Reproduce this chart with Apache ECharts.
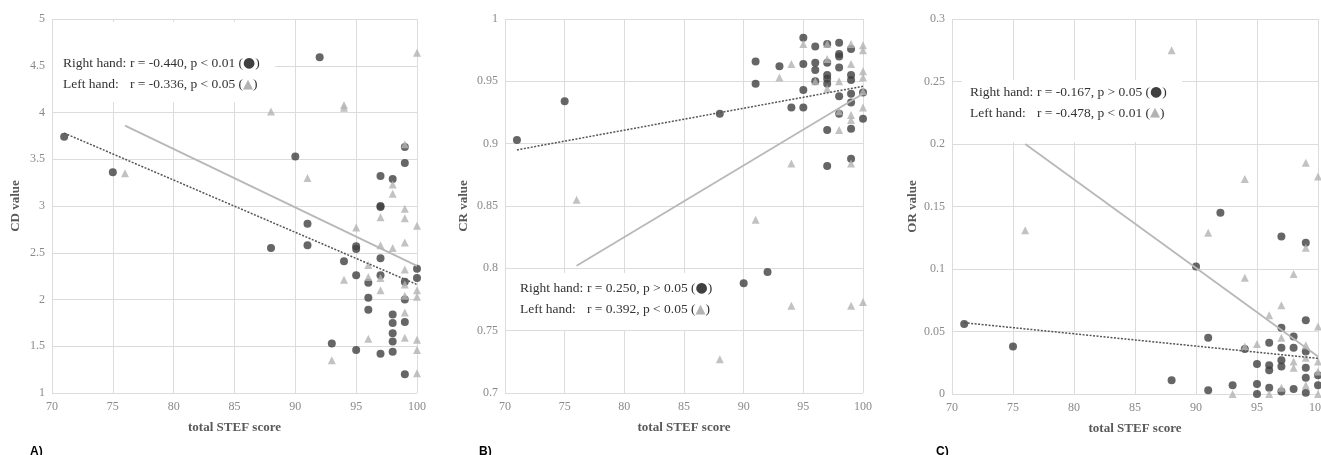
<!DOCTYPE html>
<html>
<head>
<meta charset="utf-8">
<script src="https://cdn.jsdelivr.net/npm/echarts@6/dist/echarts.min.js"></script>
<style>
  html, body { margin: 0; padding: 0; background: #fff; }
  #chart { width: 1321px; height: 455px; }
</style>
</head>
<body>
<div id="chart"></div>
<script>
// STEF score vs CD / CR / OR values, right hand (circles) and left hand (triangles)
var cdRight = [[71,3.74],[75,3.36],[92,4.59],[90,3.53],[88,2.55],[91,2.81],[91,2.58],[93,1.53],[94,2.41],
  [95,2.57],[95,2.54],[95,2.26],[95,1.46],[96,2.18],[96,2.02],[96,1.89],[97,3.32],[97,2.99],[97,3.0],[97,2.44],
  [97,2.26],[97,1.42],[98,3.29],[98,1.84],[98,1.75],[98,1.64],[98,1.55],[98,1.44],[99,3.63],[99,3.46],
  [99,2.19],[99,2.0],[99,1.76],[99,1.2],[100,2.33],[100,2.23]];
var cdLeft = [[76,3.35],[88,4.01],[91,3.3],[94,4.05],[94,4.08],[93,1.35],[94,2.21],[95,2.77],[96,2.24],
  [96,2.37],[96,1.58],[97,2.88],[97,2.58],[97,2.23],[97,2.1],[98,3.23],[98,3.13],[98,2.55],[99,3.66],
  [99,2.97],[99,2.87],[99,2.61],[99,2.32],[99,2.16],[99,2.04],[99,1.86],[99,1.59],[100,4.64],[100,2.79],
  [100,2.1],[100,2.03],[100,1.57],[100,1.46],[100,1.21]];
var crRight = [[71,0.903],[75,0.934],[88,0.924],[90,0.788],[92,0.797],[91,0.966],[91,0.948],[93,0.962],
  [94,0.929],[95,0.985],[95,0.964],[95,0.943],[95,0.929],[96,0.978],[96,0.965],[96,0.959],[96,0.95],
  [97,0.98],[97,0.965],[97,0.955],[97,0.952],[97,0.948],[97,0.911],[97,0.882],[98,0.981],[98,0.972],
  [98,0.97],[98,0.961],[98,0.938],[98,0.924],[99,0.976],[99,0.955],[99,0.951],[99,0.94],[99,0.933],
  [99,0.912],[99,0.888],[100,0.92],[100,0.941]];
var crLeft = [[76,0.855],[88,0.727],[91,0.839],[93,0.953],[94,0.964],[94,0.884],[94,0.77],[95,0.98],
  [96,0.95],[97,0.98],[97,0.968],[97,0.944],[98,0.95],[98,0.926],[98,0.911],[99,0.98],[99,0.964],
  [99,0.923],[99,0.919],[99,0.884],[99,0.77],[100,0.979],[100,0.975],[100,0.958],[100,0.953],
  [100,0.942],[100,0.929],[100,0.773]];
var orRight = [[71,0.056],[75,0.038],[88,0.011],[90,0.102],[91,0.045],[91,0.003],[92,0.145],[93,0.007],
  [94,0.036],[95,0.024],[95,0.008],[95,0.0],[96,0.023],[96,0.019],[96,0.005],[96,0.041],[97,0.126],
  [97,0.053],[97,0.037],[97,0.027],[97,0.022],[97,0.002],[98,0.046],[98,0.037],[98,0.004],[99,0.121],
  [99,0.059],[99,0.034],[99,0.021],[99,0.013],[99,0.001],[100,0.015],[100,0.007]];
var orLeft = [[76,0.131],[88,0.275],[91,0.129],[93,0.0],[94,0.172],[94,0.093],[94,0.038],[95,0.04],
  [96,0.063],[96,0.0],[97,0.071],[97,0.045],[97,0.005],[98,0.096],[98,0.026],[98,0.021],[99,0.185],
  [99,0.117],[99,0.039],[99,0.029],[99,0.007],[100,0.174],[100,0.054],[100,0.026],[100,0.018],[100,0.0]];

// linear trend lines (end points)
var cdRightFit = [[71,3.78],[100,2.16]];
var cdLeftFit = [[76,3.86],[100,2.36]];
var crRightFit = [[71,0.895],[100,0.946]];
var crLeftFit = [[76,0.802],[100,0.940]];
var orRightFit = [[71,0.057],[100,0.0285]];
var orLeftFit = [[76,0.200],[100,0.030]];

var yNames = ['CD value', 'CR value', 'OR value'];
var yMin = [1, 0.7, 0];
var yMax = [5, 1, 0.3];
var yStep = [0.5, 0.05, 0.05];
var notes = [
  ['r = -0.440, p < 0.01 (', 'r = -0.336, p < 0.05 ('],
  ['r = 0.250, p > 0.05 (', 'r = 0.392, p < 0.05 ('],
  ['r = -0.167, p > 0.05 (', 'r = -0.478, p < 0.01 (']
];

var DARK = '#404040', LIGHT = '#b3b3b3', GRID = '#dcdcdc';
var SERIF = 'Liberation Serif';

var grids = [
  {left: 52, top: 19, width: 365, height: 374, outerBoundsMode: 'none'},
  {left: 505, top: 19, width: 358, height: 374, outerBoundsMode: 'none'},
  {left: 952, top: 19, width: 366, height: 375, outerBoundsMode: 'none'}
];

var xAxes = [], yAxes = [], series = [];
var sets = [[cdRight, cdLeft, cdRightFit, cdLeftFit],
            [crRight, crLeft, crRightFit, crLeftFit],
            [orRight, orLeft, orRightFit, orLeftFit]];
var nameGaps = [30, 35, 33];

for (var i = 0; i < 3; i++) {
  xAxes.push({
    type: 'value', gridIndex: i, min: 70, max: 100, interval: 5,
    name: 'total STEF score', nameLocation: 'middle', nameGap: 28,
    nameTextStyle: {fontFamily: SERIF, fontWeight: 'bold', fontSize: 13, color: '#595959'},
    axisLine: {show: false}, axisTick: {show: false},
    axisLabel: {fontFamily: SERIF, fontSize: 12, color: '#8a8a8a', margin: 8},
    splitLine: {lineStyle: {color: GRID, width: 1}}
  });
  yAxes.push({
    type: 'value', gridIndex: i, min: yMin[i], max: yMax[i], interval: yStep[i],
    name: yNames[i], nameLocation: 'middle', nameGap: nameGaps[i],
    nameTextStyle: {fontFamily: SERIF, fontWeight: 'bold', fontSize: 13, color: '#595959'},
    axisLine: {show: false}, axisTick: {show: false},
    axisLabel: {fontFamily: SERIF, fontSize: 12, color: '#8a8a8a', margin: 7},
    splitLine: {lineStyle: {color: GRID, width: 1}}
  });
  var s = sets[i];
  series.push({
    type: 'scatter', xAxisIndex: i, yAxisIndex: i, data: s[0],
    symbol: 'circle', symbolSize: 8, itemStyle: {color: DARK}
  });
  series.push({
    type: 'scatter', xAxisIndex: i, yAxisIndex: i, data: s[1],
    symbol: 'triangle', symbolSize: 8, itemStyle: {color: LIGHT}
  });
  series.push({
    type: 'line', xAxisIndex: i, yAxisIndex: i, data: s[2], showSymbol: false, symbol: 'none',
    lineStyle: {color: '#555', width: 1.5, type: [2, 1.5]}, z: 3
  });
  series.push({
    type: 'line', xAxisIndex: i, yAxisIndex: i, data: s[3], showSymbol: false, symbol: 'none',
    lineStyle: {color: '#b8b8b8', width: 1.8}, z: 3
  });
}

var boxes = [
  {x: 53, y: 22, w: 222, h: 80, tx: 63, ty: 74},
  {x: 510, y: 273, w: 214, h: 57, tx: 520, ty: 299},
  {x: 962, y: 80, w: 220, h: 62, tx: 970, ty: 102.5}
];
var richStyle = {
  a: {width: 67, fontFamily: SERIF, fontSize: 13.5, fill: '#333', lineHeight: 21},
  b: {fontFamily: SERIF, fontSize: 13.5, fill: '#333', lineHeight: 21},
  c: {fontFamily: 'DejaVu Sans', fontSize: 14, fill: DARK, lineHeight: 21},
  d: {fontFamily: 'DejaVu Sans', fontSize: 13, fill: LIGHT, lineHeight: 21}
};
var graphics = [];
boxes.forEach(function (b, i) {
  graphics.push({type: 'rect', shape: {x: b.x, y: b.y, width: b.w, height: b.h},
    style: {fill: '#fff'}, z: 10});
  graphics.push({type: 'text', x: b.tx, y: b.ty, z: 11, style: {
    text: '{a|Right hand:}{b|' + notes[i][0] + '}{c|●}{b|)}\n{a|Left hand:}{b|' + notes[i][1] + '}{d|▲}{b|)}',
    rich: richStyle, verticalAlign: 'middle', align: 'left'
  }});
});
var panelLabels = [['A)', 30], ['B)', 479], ['C)', 936]];
panelLabels.forEach(function (p) {
  graphics.push({type: 'text', x: p[1], y: 452, style: {
    text: p[0], font: 'bold 12px "Liberation Sans"', fill: '#000', verticalAlign: 'middle'
  }});
});

var chart = echarts.init(document.getElementById('chart'));
chart.setOption({
  animation: false,
  grid: grids,
  xAxis: xAxes,
  yAxis: yAxes,
  series: series,
  graphic: graphics
});
</script>
</body>
</html>
